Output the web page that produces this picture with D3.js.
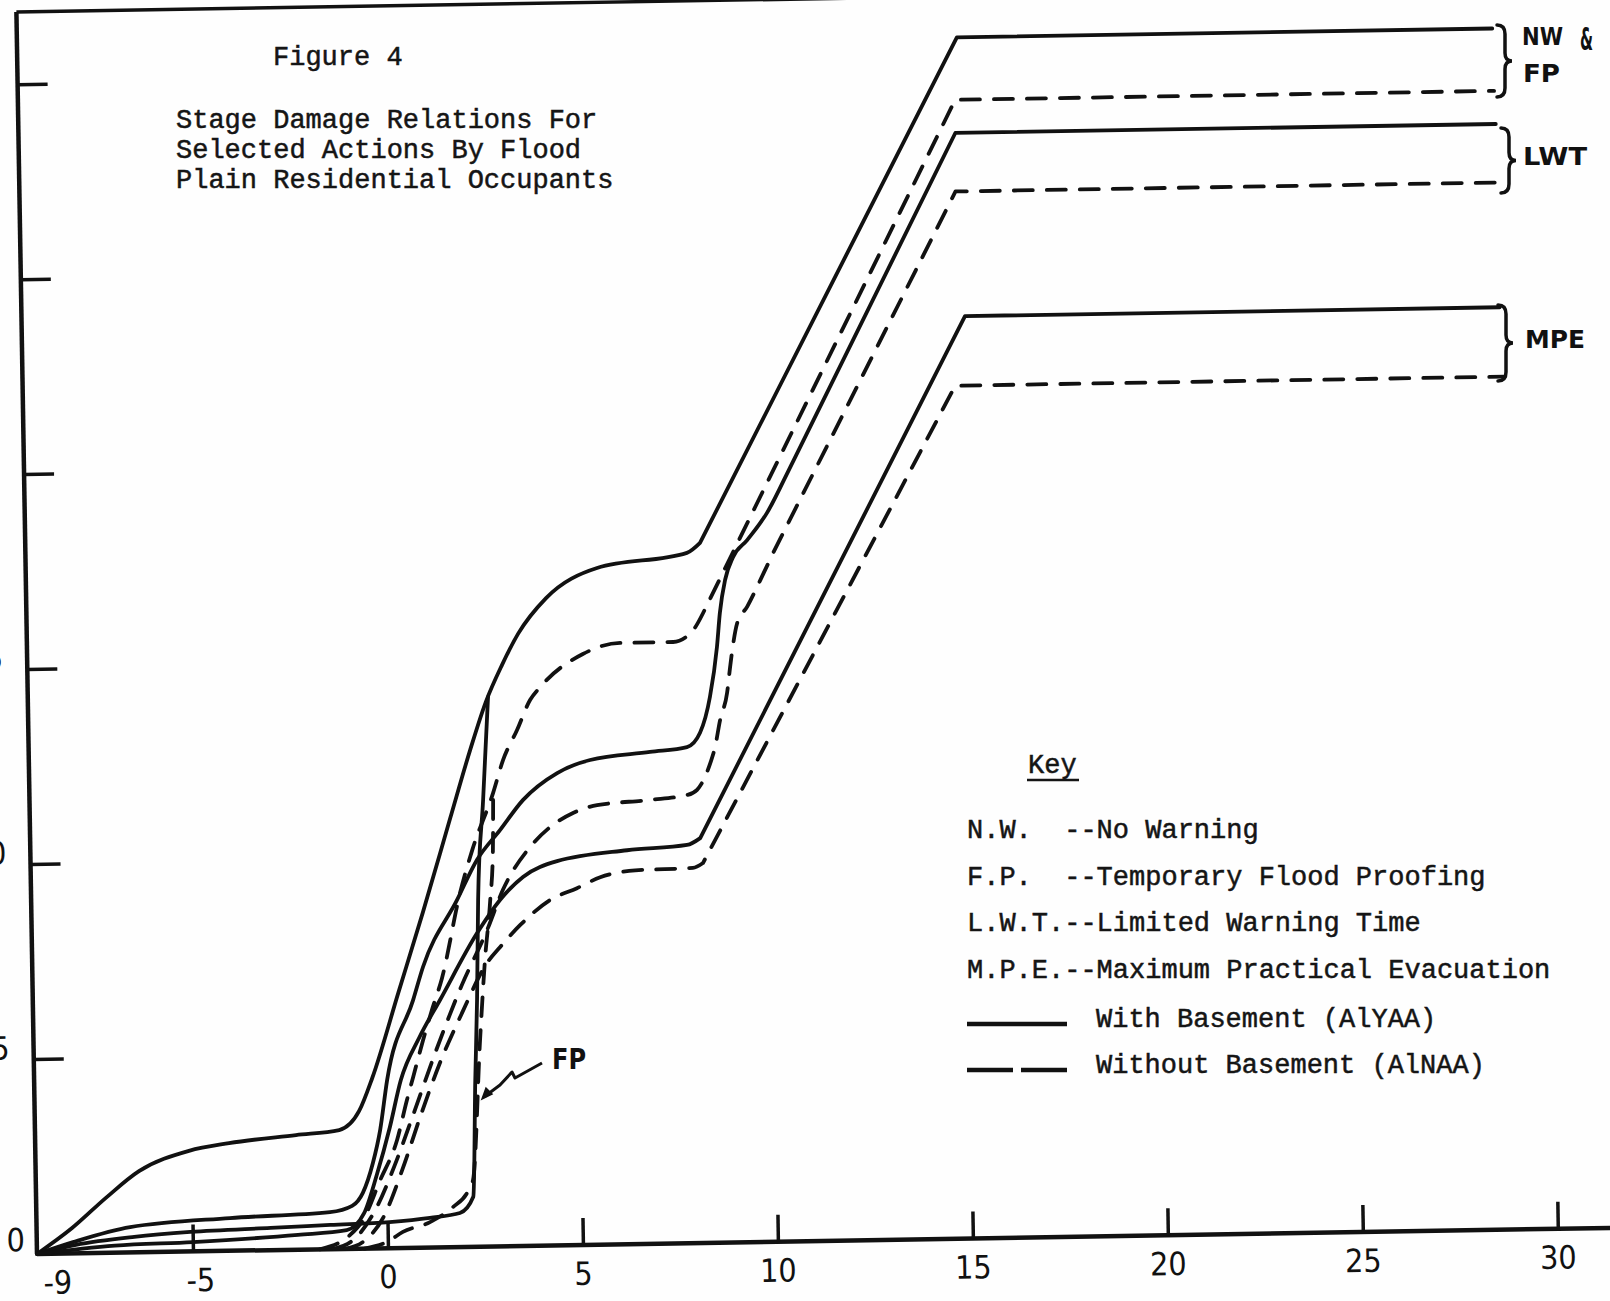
<!DOCTYPE html>
<html>
<head>
<meta charset="utf-8">
<script src="https://cdn.jsdelivr.net/npm/d3@7"></script>
<style>
  html, body { margin: 0; padding: 0; background: #fff; overflow: hidden; }
  svg { display: block; }
  .type { font-family: "Liberation Mono", "DejaVu Sans Mono", monospace; font-size: 27px; fill: #151515; stroke: #151515; stroke-width: 0.5px; }
  .hand { font-family: "DejaVu Sans Condensed", "DejaVu Sans", sans-serif; fill: #111; }
  .lab { font-family: "DejaVu Sans", sans-serif; font-weight: bold; fill: #111; }
</style>
</head>
<body>
<script>
'use strict';

// stage (ft) on x, damage on y
let xTicks = [-5, 0, 5, 10, 15, 20, 25, 30];
let xLabels = [-9, -5, 0, 5, 10, 15, 20, 25, 30];
let yTicks = [5, 10, 15, 20, 25, 30];
let yLabels = [0, 5, 10, 15, 20, 25, 30];

// with basement (solid)
let nwSolid = [[-9, 0], [-8.09, 0.65], [-7.21, 1.41], [-6.35, 2.08], [-5.06, 2.58], [-4.03, 2.76],
  [-2.31, 2.94], [-1.2, 3.05], [-0.68, 3.53], [-0.33, 4.37], [0.38, 6.56], [1.04, 8.6], [1.78, 11.0],
  [2.32, 12.74], [2.74, 13.96], [3.17, 14.9], [3.6, 15.7], [4.33, 16.6], [5.65, 17.35], [7.96, 17.7],
  [8.3, 17.95], [15.1, 30.8], [28.83, 30.8]];
// F.P. runs low, jumps up at ~2.3 ft and then follows N.W.
let fpSolid = [[-9, 0], [-8, 0.22], [-6.5, 0.4], [-5.06, 0.5], [-3, 0.57], [-1.47, 0.62], [0.05, 0.67],
  [1.09, 0.76], [1.86, 0.87], [2.21, 1.28], [2.31, 4.27], [2.39, 6.33], [2.46, 8.89], [2.63, 11.45],
  [2.8, 14.09]];
let lwtSolid = [[-9, 0], [-8.07, 0.29], [-6.6, 0.65], [-4.04, 0.84], [-1.47, 0.95], [-0.9, 1.1],
  [-0.62, 1.43], [-0.35, 2.19], [-0.15, 3.03], [0.05, 4.31], [0.75, 6.35], [1.02, 7.2], [1.92, 8.9],
  [2.45, 9.92], [3.05, 10.67], [3.65, 11.43], [4.54, 12.11], [5.39, 12.43], [6.93, 12.61], [7.88, 12.72],
  [8.22, 13.08], [8.49, 14.0], [8.69, 15.27], [8.78, 16.15], [8.93, 17.0], [9.14, 17.57], [9.51, 18.0],
  [10.03, 18.69], [10.48, 19.53], [15.02, 28.35], [28.88, 28.35]];
let mpeSolid = [[-9, 0], [-7.0, 0.18], [-5.0, 0.24], [-2.3, 0.38], [-1.05, 0.48], [-0.6, 0.9],
  [-0.25, 1.9], [0.1, 3.1], [0.4, 4.3], [0.9, 5.4], [1.44, 6.34], [2.42, 8.04], [3.02, 8.88],
  [3.62, 9.46], [4.5, 9.85], [6.3, 10.1], [7.84, 10.21], [8.18, 10.38], [15.19, 23.65], [28.9, 23.65]];

// without basement (dashed)
let nwDashed = [[-1.75, 0], [-0.97, 0.35], [-0.63, 0.73], [-0.17, 1.75], [0.28, 2.77], [0.55, 3.79],
  [0.72, 4.38], [0.99, 5.32], [1.23, 6.09], [1.5, 6.9], [2.0, 9.08], [2.33, 10.17], [2.89, 11.63],
  [3.16, 12.47], [3.53, 13.23], [3.88, 14.0], [4.14, 14.32], [5.25, 15.15], [6.21, 15.42], [7.57, 15.42],
  [8.09, 15.72], [8.35, 16.15], [15.03, 29.2], [28.85, 29.2]];
let fpDashed = [[-0.6, 0], [-0.02, 0.16], [0.39, 0.41], [1.09, 0.65], [1.69, 1.03], [2.05, 1.38],
  [2.21, 1.71], [2.45, 5.3], [2.61, 7.35], [2.77, 8.88], [2.86, 10.16], [2.89, 11.63]];
let lwtDashed = [[-1.4, 0], [-0.8, 0.3], [-0.3, 1.0], [0.2, 2.1], [0.7, 3.4], [1.3, 5.0], [2.0, 6.7],
  [2.68, 8.12], [3.1, 9.14], [3.82, 10.23], [4.34, 10.73], [4.93, 11.08], [5.55, 11.27], [6.91, 11.38],
  [7.86, 11.49], [8.12, 11.62], [8.47, 12.3], [8.6, 12.71], [8.74, 13.4], [8.93, 14.09], [9.02, 14.76],
  [9.1, 15.3], [9.22, 15.88], [9.48, 16.29], [9.83, 16.97], [10.17, 17.66], [15.0, 26.85], [29.0, 26.85]];
let mpeDashed = [[-1.1, 0], [-0.6, 0.2], [-0.1, 0.8], [0.4, 2.0], [0.9, 3.4], [1.4, 4.7], [2.0, 6.0],
  [2.66, 7.27], [3.0, 7.67], [3.53, 8.23], [4.31, 8.86], [5.0, 9.15], [5.6, 9.42], [6.5, 9.58],
  [7.98, 9.62], [8.24, 9.74], [14.91, 21.87], [29.0, 21.87]];

// stage where each curve turns into the ruled straight part (null = none)
let straightFrom = [8.3, null, 10.48, 8.18, 8.35, null, 10.17, 8.24];

let titleLines = ['Stage Damage Relations For', 'Selected Actions By Flood', 'Plain Residential Occupants'];
let keyLines = ['N.W.  --No Warning', 'F.P.  --Temporary Flood Proofing',
  'L.W.T.--Limited Warning Time', 'M.P.E.--Maximum Practical Evacuation'];
let keyStyles = ['With Basement (AlYAA)', 'Without Basement (AlNAA)'];
let groupLabels = ['NW', 'FP', 'LWT', 'MPE'];

let width = 1610;
let height = 1301;
let ox = 37, oy = 1254;   // origin of the axes on the page
let unit = 39;            // px per unit, both axes
let tilt = -0.95;         // the scan is a little rotated

let svg = d3.select('body').append('svg')
    .attr('width', width)
    .attr('height', height);

svg.append('rect').attr('width', width).attr('height', height).attr('fill', '#fefefe');

let x = d3.scaleLinear().domain([-9, 30]).range([ox, ox + 39 * unit]);
let y = d3.scaleLinear().domain([0, 30]).range([oy, oy - 30 * unit]);

let plot = svg.append('g')
    .attr('transform', 'rotate(' + tilt + ',' + ox + ',' + oy + ')');

// frame / axes
plot.append('line')
    .attr('x1', x(-9)).attr('y1', y(0)).attr('x2', x(31.8)).attr('y2', y(0))
    .attr('stroke', '#111').attr('stroke-width', 4.5);
plot.append('line')
    .attr('x1', x(-9)).attr('y1', y(0)).attr('x2', x(-9)).attr('y2', y(31.85))
    .attr('stroke', '#111').attr('stroke-width', 4.5);
plot.append('line')
    .attr('x1', x(-9)).attr('y1', y(31.85)).attr('x2', x(31.8)).attr('y2', y(31.85))
    .attr('stroke', '#111').attr('stroke-width', 3.5);

let xAxis = plot.append('g')
    .attr('transform', 'translate(0,' + y(0) + ')')
    .call(d3.axisBottom(x).tickValues(xTicks).tickSize(-27).tickSizeOuter(0).tickFormat(''));
let yAxis = plot.append('g')
    .attr('transform', 'translate(' + x(-9) + ',0)')
    .call(d3.axisLeft(y).tickValues(yTicks).tickSize(-30).tickSizeOuter(0).tickFormat(''));
[xAxis, yAxis].forEach(function(a) {
  a.select('.domain').remove();
  a.selectAll('.tick line').attr('stroke', '#111').attr('stroke-width', 3.5);
});

plot.selectAll('text.xl')
  .data(xLabels)
  .enter().append('text')
    .attr('class', 'hand xl')
    .attr('font-size', 32)
    .attr('x', function(d) {
      if (d < 0) return Math.max(x(d) - 7, x(-9) + 6);
      return x(d);
    })
    .attr('y', y(0) + 40)
    .attr('text-anchor', function(d) { return d < 0 ? 'start' : 'middle'; })
    .text(function(d) { return d; });

// the scan cuts these off at the left edge
plot.selectAll('text.yl')
  .data(yLabels)
  .enter().append('text')
    .attr('class', 'hand yl')
    .attr('font-size', 32)
    .attr('x', function(d) { return x(-9) - (d === 0 ? 12 : 24); })
    .attr('y', function(d) { return y(d) - (d === 0 ? 3 : 0); })
    .attr('text-anchor', 'end')
    .text(function(d) { return d; });

// curves
let series = [nwSolid, fpSolid, lwtSolid, mpeSolid, nwDashed, fpDashed, lwtDashed, mpeDashed];

let smooth = d3.line()
    .x(function(d) { return x(d[0]); })
    .y(function(d) { return y(d[1]); })
    .curve(d3.curveMonotoneX);
let ruled = d3.line()
    .x(function(d) { return x(d[0]); })
    .y(function(d) { return y(d[1]); });

let pathFor = function(pts, from) {
  if (from === null) return smooth(pts);
  let k = pts.findIndex(function(p) { return p[0] === from; });
  let head = smooth(pts.slice(0, k + 1));
  let tail = ruled(pts.slice(k)).replace(/^M/, 'L');
  return head + tail;
};

plot.selectAll('path.curve')
  .data(series)
  .enter().append('path')
    .attr('class', 'curve')
    .attr('d', function(d, i) { return pathFor(d, straightFrom[i]); })
    .attr('fill', 'none')
    .attr('stroke', '#111')
    .attr('stroke-width', 3.8)
    .attr('stroke-linecap', 'round')
    .attr('stroke-linejoin', 'round')
    .attr('stroke-dasharray', function(d, i) { return i >= 4 ? '19 14' : null; });

// title
svg.append('text').attr('class', 'type').attr('x', 273).attr('y', 65).text('Figure 4');
svg.selectAll('text.title')
  .data(titleLines)
  .enter().append('text')
    .attr('class', 'type title')
    .attr('x', 176)
    .attr('y', function(d, i) { return 128 + i * 30; })
    .text(function(d) { return d; });

// key
svg.append('text').attr('class', 'type').attr('x', 1028).attr('y', 773).text('Key');
svg.append('line').attr('x1', 1027).attr('x2', 1079).attr('y1', 780).attr('y2', 780)
    .attr('stroke', '#151515').attr('stroke-width', 2.5);
svg.selectAll('text.key')
  .data(keyLines)
  .enter().append('text')
    .attr('class', 'type key')
    .attr('x', 967)
    .attr('y', function(d, i) { return 838 + i * 46.5; })
    .attr('xml:space', 'preserve')
    .style('white-space', 'pre')
    .text(function(d) { return d; });
svg.selectAll('text.ks')
  .data(keyStyles)
  .enter().append('text')
    .attr('class', 'type ks')
    .attr('x', 1096)
    .attr('y', function(d, i) { return 1027 + i * 46; })
    .text(function(d) { return d; });
svg.append('line').attr('x1', 967).attr('x2', 1067).attr('y1', 1024).attr('y2', 1024)
    .attr('stroke', '#111').attr('stroke-width', 4.5);
svg.append('line').attr('x1', 967).attr('x2', 1067).attr('y1', 1070).attr('y2', 1070)
    .attr('stroke', '#111').attr('stroke-width', 4.5).attr('stroke-dasharray', '46 8');

// braces + group labels at the right end
let brace = function(x0, y0, y1) {
  let m = (y0 + y1) / 2;
  return 'M' + (x0 - 5) + ',' + y0 +
    'Q' + (x0 + 3) + ',' + y0 + ' ' + (x0 + 3) + ',' + (y0 + 9) +
    'L' + (x0 + 3) + ',' + (m - 8) +
    'Q' + (x0 + 3) + ',' + m + ' ' + (x0 + 10) + ',' + m +
    'Q' + (x0 + 3) + ',' + m + ' ' + (x0 + 3) + ',' + (m + 8) +
    'L' + (x0 + 3) + ',' + (y1 - 9) +
    'Q' + (x0 + 3) + ',' + y1 + ' ' + (x0 - 5) + ',' + y1;
};
[[1502, 25, 97], [1506, 128, 193], [1503, 305, 381]].forEach(function(b) {
  svg.append('path').attr('d', brace(b[0], b[1], b[2]))
      .attr('fill', 'none').attr('stroke', '#111').attr('stroke-width', 3.5)
      .attr('stroke-linecap', 'round');
});

let labPos = [[1522, 45, 41], [1523, 82, 37], [1523, 165, 64], [1525, 348, 60]];
svg.selectAll('text.grp')
  .data(groupLabels)
  .enter().append('text')
    .attr('class', 'lab grp')
    .attr('font-size', 25)
    .attr('x', function(d, i) { return labPos[i][0]; })
    .attr('y', function(d, i) { return labPos[i][1]; })
    .attr('textLength', function(d, i) { return labPos[i][2]; })
    .attr('lengthAdjust', 'spacingAndGlyphs')
    .text(function(d) { return d; });
svg.append('text').attr('class', 'lab').attr('font-size', 32)
    .attr('x', 1580).attr('y', 50).attr('textLength', 13).attr('lengthAdjust', 'spacingAndGlyphs')
    .text('&');

// FP callout
svg.append('text').attr('class', 'lab').attr('font-size', 29)
    .attr('x', 552).attr('y', 1069).attr('textLength', 34).attr('lengthAdjust', 'spacingAndGlyphs')
    .text('FP');
svg.append('path')
    .attr('d', 'M542,1063 L515,1078 L512,1072 L500,1085 L484,1097')
    .attr('fill', 'none').attr('stroke', '#111').attr('stroke-width', 3)
    .attr('stroke-linejoin', 'round');
svg.append('path')
    .attr('d', 'M482,1099 L486,1088 L492,1094 Z')
    .attr('fill', '#111').attr('stroke', '#111').attr('stroke-width', 1.5);
</script>
</body>
</html>
